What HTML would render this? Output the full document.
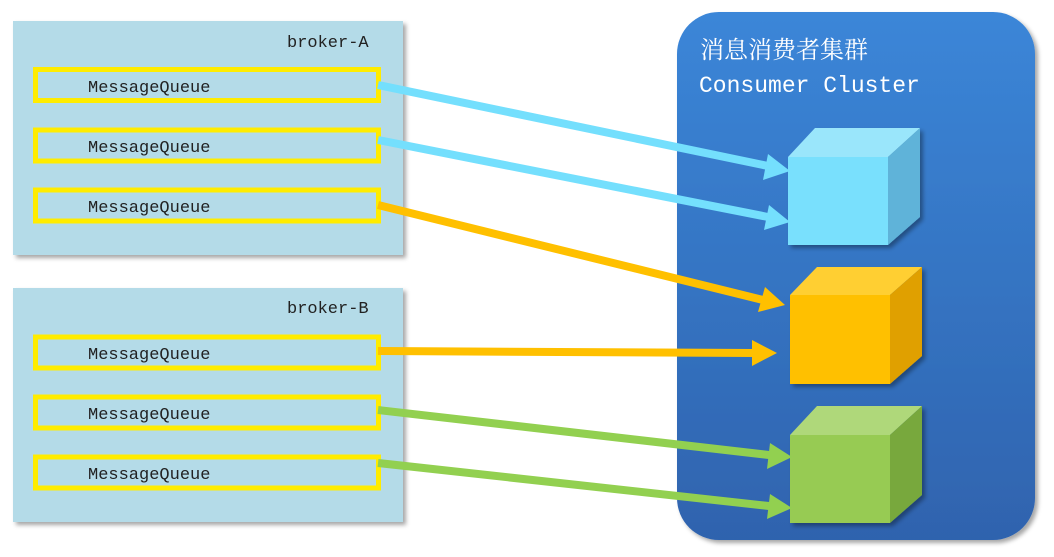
<!DOCTYPE html>
<html><head><meta charset="utf-8"><style>
html,body{margin:0;padding:0;background:#fff;width:1054px;height:557px;overflow:hidden}
svg{display:block}
text{font-family:"Liberation Mono","Noto Serif CJK SC",monospace}
</style></head><body>
<svg width="1054" height="557" viewBox="0 0 1054 557" xmlns="http://www.w3.org/2000/svg">
<defs>
<linearGradient id="cl" x1="0" y1="0" x2="0" y2="1">
<stop offset="0" stop-color="#3b86d8"/><stop offset="1" stop-color="#2f63ae"/>
</linearGradient>
<filter id="sh" x="-10%" y="-10%" width="130%" height="130%"><feDropShadow dx="3" dy="3" stdDeviation="2" flood-color="#000" flood-opacity="0.35"/></filter>
</defs>
<!-- brokers -->
<rect x="13" y="21" width="390" height="234" fill="#b4dbe8" filter="url(#sh)"/>
<rect x="13" y="288" width="390" height="234" fill="#b4dbe8" filter="url(#sh)"/>
<text x="287" y="47" font-size="17" fill="#222">broker-A</text>
<text x="287" y="313" font-size="17" fill="#222">broker-B</text>
<g fill="none" stroke="#ffec00" stroke-width="5">
<rect x="35.5" y="69.5" width="343" height="31"/>
<rect x="35.5" y="130" width="343" height="31"/>
<rect x="35.5" y="190" width="343" height="31"/>
<rect x="35.5" y="337" width="343" height="31"/>
<rect x="35.5" y="397" width="343" height="31"/>
<rect x="35.5" y="457" width="343" height="31"/>
</g>
<g font-size="17" fill="#222">
<text x="88" y="92">MessageQueue</text>
<text x="88" y="152">MessageQueue</text>
<text x="88" y="212">MessageQueue</text>
<text x="88" y="359">MessageQueue</text>
<text x="88" y="419">MessageQueue</text>
<text x="88" y="479">MessageQueue</text>
</g>
<!-- cluster -->
<rect x="677" y="12" width="358" height="528" rx="42" fill="url(#cl)" filter="url(#sh)"/>
<text x="700" y="58" font-size="24" fill="#fff" font-family="Noto Serif CJK SC, serif">消息消费者集群</text>
<text x="699" y="92" font-size="23" fill="#fff">Consumer Cluster</text>
<!-- cubes -->
<g filter="url(#sh)">
<polygon points="788,157 815,128 920,128 888,157" fill="#9ae6fb"/>
<polygon points="888,157 920,128 920,217 888,245" fill="#5fb3d9"/>
<rect x="788" y="157" width="100" height="88" fill="#79e0fd"/>
</g>
<g filter="url(#sh)">
<polygon points="790,295 817,267 922,267 890,295" fill="#ffcf33"/>
<polygon points="890,295 922,267 922,356 890,384" fill="#e0a000"/>
<rect x="790" y="295" width="100" height="89" fill="#ffc000"/>
</g>
<g filter="url(#sh)">
<polygon points="790,435 817,406 922,406 890,435" fill="#afd87a"/>
<polygon points="890,435 922,406 922,495 890,523" fill="#78a83e"/>
<rect x="790" y="435" width="100" height="88" fill="#97cb53"/>
</g>
<!-- arrows -->
<g stroke-width="8" fill="none">
<line x1="378" y1="85" x2="768" y2="166" stroke="#74dffd"/>
<line x1="378" y1="140" x2="768" y2="217" stroke="#74dffd"/>
<line x1="378" y1="205" x2="763" y2="300" stroke="#ffc000"/>
<line x1="378" y1="351" x2="753" y2="353" stroke="#ffc000"/>
<line x1="378" y1="410" x2="769" y2="455" stroke="#92d050"/>
<line x1="378" y1="463" x2="769" y2="506" stroke="#92d050"/>
</g>
<g>
<polygon points="790,171 763,180 768,154" fill="#74dffd" transform="rotate(0)"/>
<polygon points="790,222 764,230 769,205" fill="#74dffd"/>
<polygon points="785,305 758,312 765,287" fill="#ffc000"/>
<polygon points="777,353 752,366 752,340" fill="#ffc000"/>
<polygon points="792,457 767,469 770,443" fill="#92d050"/>
<polygon points="792,508 767,519 770,494" fill="#92d050"/>
</g>
</svg>
</body></html>
